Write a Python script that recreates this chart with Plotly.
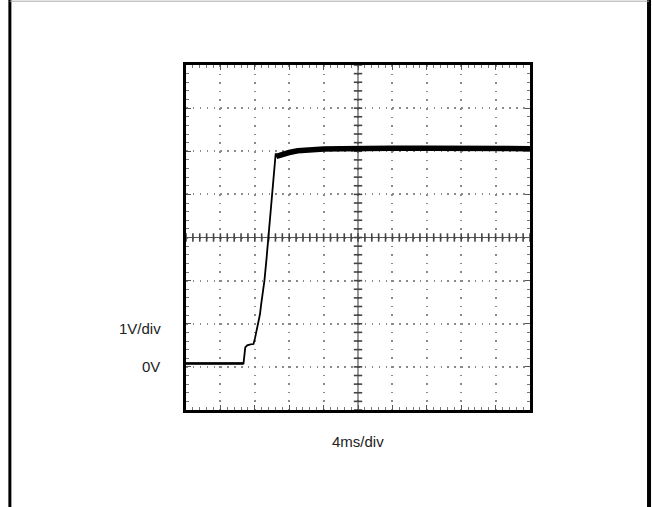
import plotly.graph_objects as go
import numpy as np

# Scope settings
x_divs = 10          # horizontal divisions
y_divs = 8           # vertical divisions
ms_per_div = 4.0     # 4ms/div
v_per_div = 1.0      # 1V/div
y_min = -1.0         # 0V sits one division above the bottom

# Trace (time in ms, volts)
time_ms = [0.0, 1.0, 2.0, 3.0, 4.0, 5.0, 6.0, 6.69, 6.89, 7.12, 7.5, 7.85,
           8.02, 8.16, 8.43, 8.6, 8.74, 8.95, 9.12, 9.36, 9.59, 9.8, 9.98,
           10.2, 10.36, 10.43, 10.51, 11.0, 12.0, 13.0, 14.0, 16.0, 18.0,
           20.0, 24.0, 28.0, 32.0, 36.0, 40.0]
volts = [0.08, 0.08, 0.08, 0.08, 0.08, 0.08, 0.08, 0.08, 0.45, 0.50, 0.52, 0.53,
         0.66, 0.80, 1.00, 1.22, 1.45, 1.72, 2.00, 2.50, 3.00, 3.50, 4.00,
         4.45, 4.85, 4.95, 4.88, 4.92, 4.97, 5.01, 5.03, 5.05, 5.06,
         5.07, 5.07, 5.07, 5.06, 5.06, 5.06]
settle_start = 26    # index from which the noisy settled band starts
base_end = 8         # baseline segment end index

x_max = x_divs * ms_per_div
y_max = y_min + y_divs * v_per_div
x_c = x_max / 2
y_c = (y_min + y_max) / 2

fig = go.Figure()

# centre graticule axes with sub-division ticks
sub_x = np.arange(0, x_max + 1e-9, ms_per_div / 5)
sub_y = np.arange(y_min, y_max + 1e-9, v_per_div / 5)
fig.add_trace(go.Scatter(x=[0, x_max], y=[y_c, y_c], mode="lines",
                         line=dict(color="#555555", width=1.2), hoverinfo="skip"))
fig.add_trace(go.Scatter(x=[x_c, x_c], y=[y_min, y_max], mode="lines",
                         line=dict(color="#555555", width=1.2), hoverinfo="skip"))
fig.add_trace(go.Scatter(x=sub_x, y=[y_c] * len(sub_x), mode="markers",
                         marker=dict(symbol="line-ns", size=6,
                                     line=dict(color="#444444", width=1.6)),
                         hoverinfo="skip"))
fig.add_trace(go.Scatter(x=[x_c] * len(sub_y), y=sub_y, mode="markers",
                         marker=dict(symbol="line-ew", size=6,
                                     line=dict(color="#444444", width=1.6)),
                         hoverinfo="skip"))

# waveform
fig.add_trace(go.Scatter(x=time_ms, y=volts, mode="lines",
                         line=dict(color="black", width=1.8), hoverinfo="skip"))
fig.add_trace(go.Scatter(x=time_ms[:base_end], y=volts[:base_end], mode="lines",
                         line=dict(color="black", width=2.6), hoverinfo="skip"))
fig.add_trace(go.Scatter(x=time_ms[settle_start:], y=volts[settle_start:], mode="lines",
                         line=dict(color="black", width=5.5), hoverinfo="skip"))

grid_col = "#8a8a8a"
fig.update_xaxes(range=[0, x_max], dtick=ms_per_div, tick0=0, showticklabels=False,
                 showgrid=True, gridcolor=grid_col, gridwidth=1.5,
                 griddash="1.5px,7.1px",
                 ticks="inside", ticklen=5, tickcolor="#555555",
                 minor=dict(dtick=ms_per_div / 5, ticks="inside", ticklen=3,
                            tickcolor="#777777", showgrid=False),
                 showline=True, linecolor="black", linewidth=3, mirror="allticks",
                 zeroline=False, fixedrange=True)
fig.update_yaxes(range=[y_min, y_max], dtick=v_per_div, tick0=0, showticklabels=False,
                 showgrid=True, gridcolor=grid_col, gridwidth=1.5,
                 griddash="1.5px,5.38px",
                 ticks="inside", ticklen=5, tickcolor="#555555",
                 minor=dict(dtick=v_per_div / 5, ticks="inside", ticklen=3,
                            tickcolor="#777777", showgrid=False),
                 showline=True, linecolor="black", linewidth=3, mirror="allticks",
                 zeroline=False, fixedrange=True)

font = dict(family="Liberation Sans, Arial", size=15, color="#222222")
fig.add_annotation(text="1V/div", xref="paper", x=0, y=1.0, yref="y",
                   xanchor="right", yanchor="middle", xshift=-23, yshift=-5,
                   showarrow=False, font=font)
fig.add_annotation(text="0V", xref="paper", x=0, y=0.0, yref="y",
                   xanchor="right", yanchor="middle", xshift=-24,
                   showarrow=False, font=font)
fig.add_annotation(text="4ms/div", xref="paper", x=0.5, y=0, yref="paper",
                   xanchor="center", yanchor="middle", yshift=-31,
                   showarrow=False, font=font)

# outer page frame
fig.add_shape(type="line", xref="paper", yref="paper", x0=-0.512, x1=-0.512,
              y0=-0.4, y1=1.19, line=dict(color="black", width=3))
fig.add_shape(type="line", xref="paper", yref="paper", x0=1.346, x1=1.346,
              y0=-0.4, y1=1.19, line=dict(color="black", width=4))
fig.add_shape(type="line", xref="paper", yref="paper", x0=-0.512, x1=1.346,
              y0=1.185, y1=1.185, line=dict(color="#aaaaaa", width=1))

fig.update_layout(width=652, height=507, showlegend=False,
                  margin=dict(l=186, r=122, t=65, b=97),
                  paper_bgcolor="white", plot_bgcolor="white")

fig.write_html("out.html", config={"displayModeBar": False},
               post_script="document.body.style.margin='0';document.body.style.overflow='hidden';")
